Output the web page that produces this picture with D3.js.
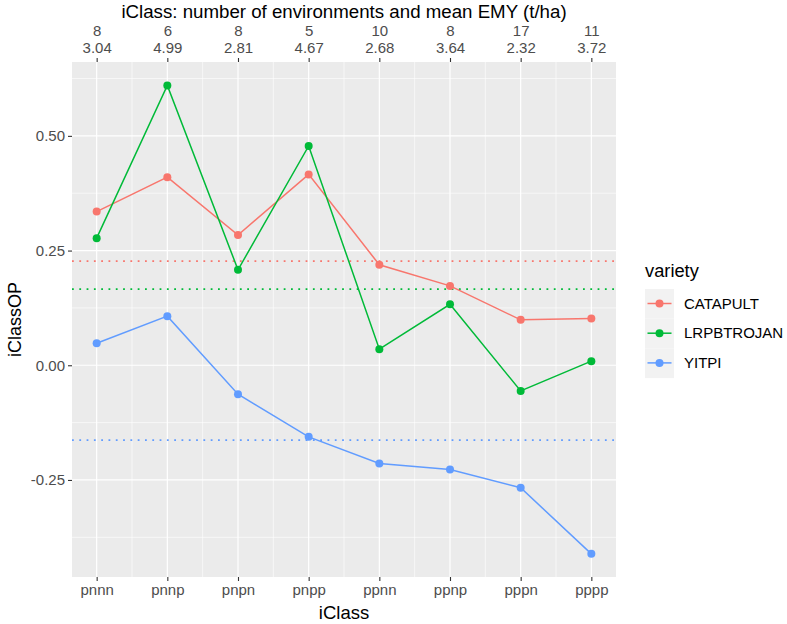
<!DOCTYPE html>
<html>
<head>
<meta charset="utf-8">
<script src="https://cdn.jsdelivr.net/npm/d3@7"></script>
<style>
  body { margin: 0; background: #fff; }
  svg text { font-family: "Liberation Sans", Arial, sans-serif; }
</style>
</head>
<body>
<svg id="chart" width="787" height="624"></svg>
<script>
const classes = ['pnnn', 'pnnp', 'pnpn', 'pnpp', 'ppnn', 'ppnp', 'pppn', 'pppp'];
const envCounts = ['8', '6', '8', '5', '10', '8', '17', '11'];
const meanEMY = ['3.04', '4.99', '2.81', '4.67', '2.68', '3.64', '2.32', '3.72'];

const varieties = ['CATAPULT', 'LRPBTROJAN', 'YITPI'];
const catapult = [0.335, 0.410, 0.284, 0.416, 0.219, 0.173, 0.099, 0.102];
const trojan = [0.277, 0.610, 0.208, 0.478, 0.035, 0.133, -0.056, 0.009];
const yitpi = [0.048, 0.107, -0.063, -0.156, -0.214, -0.227, -0.267, -0.411];
const meanOP = [0.227, 0.166, -0.163];

const yTicks = [-0.25, 0, 0.25, 0.5];
const yMinor = [-0.375, -0.125, 0.125, 0.375, 0.625];

const colors = ['#F8766D', '#00BA38', '#619CFF'];
const series = [catapult, trojan, yitpi];

const panel = { left: 72, right: 616, top: 62, bottom: 577 };

const svg = d3.select('#chart');

const x = d3.scalePoint()
    .domain(classes)
    .range([panel.left, panel.right])
    .padding(0.349);

const y = d3.scaleLinear()
    .domain([-0.4615, 0.661])
    .range([panel.bottom, panel.top]);

// panel background
svg.append('rect')
    .attr('x', panel.left).attr('y', panel.top)
    .attr('width', panel.right - panel.left)
    .attr('height', panel.bottom - panel.top)
    .attr('fill', '#EBEBEB');

const grid = svg.append('g');
// minor grid
grid.selectAll('.hminor')
    .data(yMinor)
    .enter().append('line')
    .attr('x1', panel.left).attr('x2', panel.right)
    .attr('y1', d => y(d)).attr('y2', d => y(d))
    .attr('stroke', '#fff').attr('stroke-width', 0.6);

const step = x.step();
grid.selectAll('.vminor')
    .data(classes.slice(1))
    .enter().append('line')
    .attr('x1', d => x(d) - step / 2).attr('x2', d => x(d) - step / 2)
    .attr('y1', panel.top).attr('y2', panel.bottom)
    .attr('stroke', '#fff').attr('stroke-width', 0.6);

// major grid
grid.selectAll('.hmajor')
    .data(yTicks)
    .enter().append('line')
    .attr('x1', panel.left).attr('x2', panel.right)
    .attr('y1', d => y(d)).attr('y2', d => y(d))
    .attr('stroke', '#fff').attr('stroke-width', 1.2);

grid.selectAll('.vmajor')
    .data(classes)
    .enter().append('line')
    .attr('x1', d => x(d)).attr('x2', d => x(d))
    .attr('y1', panel.top).attr('y2', panel.bottom)
    .attr('stroke', '#fff').attr('stroke-width', 1.2);

// dotted mean lines
svg.append('g').selectAll('line')
    .data(meanOP)
    .enter().append('line')
    .attr('x1', panel.left).attr('x2', panel.right)
    .attr('y1', d => y(d)).attr('y2', d => y(d))
    .attr('stroke', (d, i) => colors[i])
    .attr('stroke-width', 1.8)
    .attr('stroke-dasharray', '1.8,5.5');

// lines + points
const line = d3.line()
    .x((d, i) => x(classes[i]))
    .y(d => y(d));

series.forEach((vals, k) => {
    svg.append('path')
        .datum(vals)
        .attr('d', line)
        .attr('fill', 'none')
        .attr('stroke', colors[k])
        .attr('stroke-width', 1.5);
    svg.append('g').selectAll('circle')
        .data(vals)
        .enter().append('circle')
        .attr('cx', (d, i) => x(classes[i]))
        .attr('cy', d => y(d))
        .attr('r', 4)
        .attr('fill', colors[k]);
});

// y axis
const yAxis = svg.append('g')
    .attr('transform', `translate(${panel.left},0)`)
    .call(d3.axisLeft(y).tickValues(yTicks).tickSize(4).tickPadding(3));
yAxis.select('.domain').remove();
yAxis.selectAll('line').attr('stroke', '#333').attr('stroke-width', 1.1);
yAxis.selectAll('text').attr('fill', '#4D4D4D').style('font-size', '15px')
    .text(d => d3.format('.2f')(d).replace('−', '-'));

// bottom axis
const xAxis = svg.append('g')
    .attr('transform', `translate(0,${panel.bottom})`)
    .call(d3.axisBottom(x).tickSize(4).tickPadding(3));
xAxis.select('.domain').remove();
xAxis.selectAll('line').attr('stroke', '#333').attr('stroke-width', 1.1);
xAxis.selectAll('text').attr('fill', '#4D4D4D').style('font-size', '15px');

// top axis (two-line labels)
const topAxis = svg.append('g')
    .attr('transform', `translate(0,${panel.top})`)
    .call(d3.axisTop(x).tickSize(4).tickFormat(''));
topAxis.select('.domain').remove();
topAxis.selectAll('line').attr('stroke', '#333').attr('stroke-width', 1.1);
topAxis.selectAll('.tick').each(function(d, i) {
    const t = d3.select(this).append('text')
        .attr('fill', '#4D4D4D')
        .attr('text-anchor', 'middle')
        .style('font-size', '15px');
    t.append('tspan').attr('x', 0).attr('y', -26).text(envCounts[i]);
    t.append('tspan').attr('x', 0).attr('y', -9).text(meanEMY[i]);
});

// titles
const cx = (panel.left + panel.right) / 2;
svg.append('text')
    .attr('x', cx).attr('y', 18)
    .attr('text-anchor', 'middle')
    .style('font-size', '18.7px')
    .attr('fill', '#000')
    .text('iClass: number of environments and mean EMY (t/ha)');

svg.append('text')
    .attr('x', cx).attr('y', 619)
    .attr('text-anchor', 'middle')
    .style('font-size', '18.5px')
    .text('iClass');

svg.append('text')
    .attr('transform', `translate(21,${(panel.top + panel.bottom) / 2}) rotate(-90)`)
    .attr('text-anchor', 'middle')
    .style('font-size', '18px')
    .text('iClassOP');

// legend
const legend = svg.append('g').attr('transform', 'translate(645,289)');
legend.append('text')
    .attr('x', 0).attr('y', -12)
    .style('font-size', '18.3px')
    .text('variety');

varieties.forEach((name, i) => {
    const g = legend.append('g').attr('transform', `translate(0,${i * 29.7})`);
    g.append('rect')
        .attr('width', 29).attr('height', 29.7)
        .attr('fill', '#F2F2F2');
    g.append('line')
        .attr('x1', 2.5).attr('x2', 26.5)
        .attr('y1', 14.5).attr('y2', 14.5)
        .attr('stroke', colors[i]).attr('stroke-width', 1.5);
    g.append('circle')
        .attr('cx', 14.5).attr('cy', 14.5).attr('r', 4)
        .attr('fill', colors[i]);
    g.append('text')
        .attr('x', 39).attr('y', 14.5)
        .attr('dy', '0.35em')
        .style('font-size', '15px')
        .text(name);
});
</script>
</body>
</html>
